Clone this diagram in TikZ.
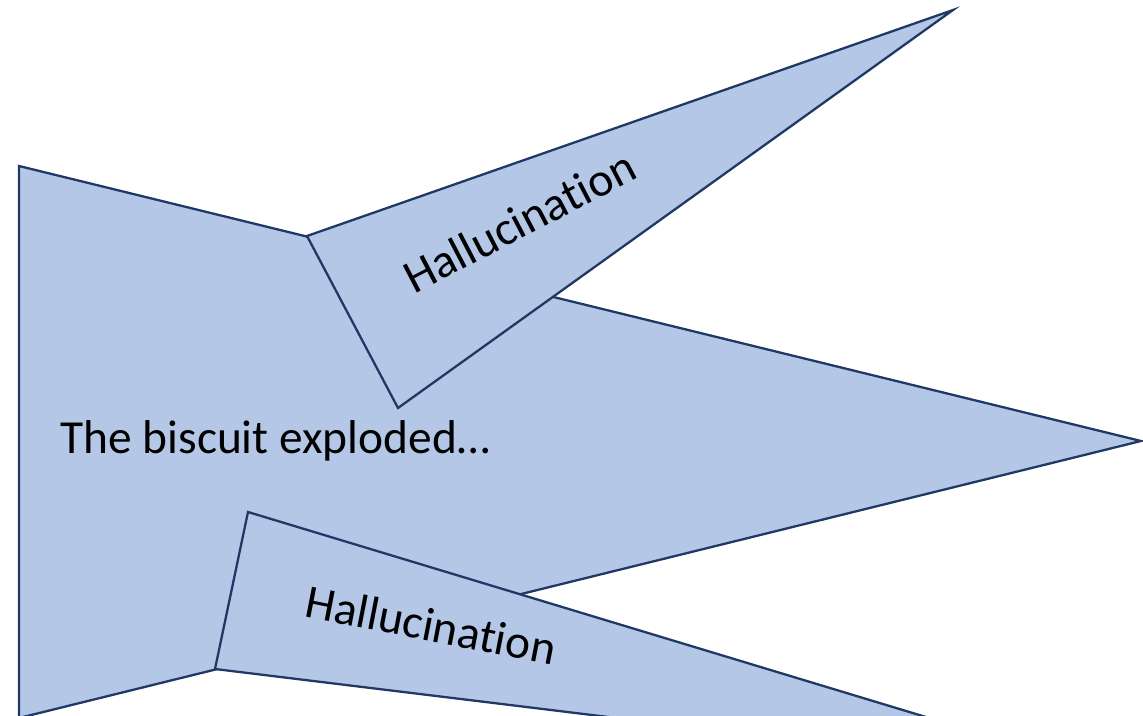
\documentclass[tikz,border=0pt]{standalone}
\usepackage{fontspec}
\setmainfont[Ligatures=NoCommon]{Carlito}
\usepackage{tikz}
\usetikzlibrary{positioning}

\definecolor{shapefill}{HTML}{B4C7E7}
\definecolor{shapeline}{HTML}{1F3864}

\tikzset{
  blob/.style={fill=shapefill,draw=shapeline,line width=1.3pt,line join=miter},
  label/.style={font=\fontsize{27}{32}\selectfont,inner sep=0pt}
}

\begin{document}
\begin{tikzpicture}[x=0.02cm,y=-0.02cm]
        \useasboundingbox (0,0) rectangle (1143,716);
        \clip (0,0) rectangle (1143,716);

        % main wedge
        \draw[blob] (19,166) -- (1141,441) -- (19,718) -- cycle;

        % upper branch
        \draw[blob] (307,236) -- (953,10) -- (398,408) -- cycle;

        % lower branch
        \draw[blob] (248,512) -- (1250,815) -- (1100,777) -- (215,669) -- cycle;

        \node[label,anchor=base west] (main) at (60,453) {The biscuit exploded…};
        \node[label,anchor=base,rotate=27.5] (upper) at (527,236) {Hallucination};
        \node[label,anchor=base,rotate=-11] (lower) at (428,641) {Hallucination};
      \end{tikzpicture}
\end{document}
